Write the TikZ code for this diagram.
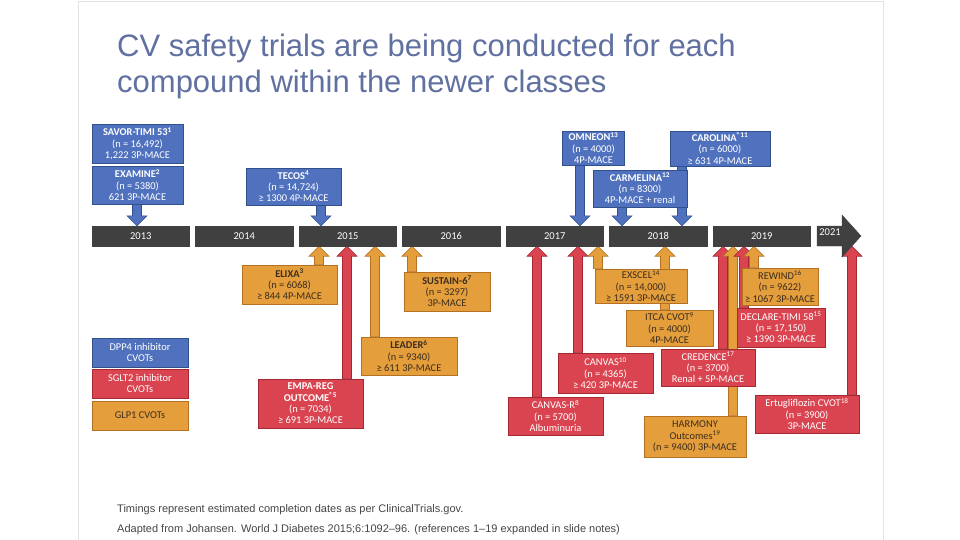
\documentclass[tikz,border=0pt]{standalone}
\usepackage{fontspec}
\setmainfont{Liberation Sans}
\newfontfamily\boxfont{Carlito}
\usetikzlibrary{calc}
\definecolor{cblue}{RGB}{80,114,190}
\definecolor{cbluedark}{RGB}{50,80,140}
\definecolor{cred}{RGB}{218,68,80}
\definecolor{creddark}{RGB}{165,40,50}
\definecolor{corange}{RGB}{228,158,60}
\definecolor{corangedark}{RGB}{180,112,35}
\definecolor{tgray}{RGB}{64,64,64}
\definecolor{ctitle}{RGB}{96,112,160}
\definecolor{otext}{RGB}{60,45,30}
\definecolor{cfoot}{RGB}{70,70,70}
\pgfdeclarelayer{paper}
\pgfdeclarelayer{back}
\pgfsetlayers{paper,back,main}
% block arrow pointing up: #1 colour, #2 x (px), #3 from node (below), #4 to node (above)
\newcommand\uparr[4]{%
  \path[fill=#1,draw=#1dark,line width=0.6pt] let \p1=(#3.north), \p2=(#4.south) in
    (#2pt-4.5pt,\y1) -- (#2pt-4.5pt,\y2-10pt) -- (#2pt-10pt,\y2-10pt) -- (#2pt,\y2)
    -- (#2pt+10pt,\y2-10pt) -- (#2pt+4.5pt,\y2-10pt) -- (#2pt+4.5pt,\y1) -- cycle;}
% block arrow pointing down
\newcommand\dnarr[4]{%
  \path[fill=#1,draw=#1dark,line width=0.6pt] let \p1=(#3.south), \p2=(#4.north) in
    (#2pt-4.5pt,\y1) -- (#2pt-4.5pt,\y2+10pt) -- (#2pt-10pt,\y2+10pt) -- (#2pt,\y2)
    -- (#2pt+10pt,\y2+10pt) -- (#2pt+4.5pt,\y2+10pt) -- (#2pt+4.5pt,\y1) -- cycle;}
\begin{document}
\begin{tikzpicture}[x=1pt,y=-1pt,
  box/.style={line width=0.8pt, align=center, inner sep=0pt,
    font=\boxfont\fontsize{10.4}{11.3}\selectfont},
  bluebox/.style={box, fill=cblue, draw=cbluedark, text=white},
  redbox/.style={box, fill=cred, draw=creddark, text=white},
  orangebox/.style={box, fill=corange, draw=corangedark, text=otext},
  yearbar/.style={fill=tgray, draw=tgray, minimum width=97.5pt, minimum height=20pt,
    inner sep=0pt, text=white, font=\boxfont\fontsize{10.5}{12}\selectfont},
  wh/.style 2 args={minimum width=#1pt, minimum height=#2pt},
  titlefont/.style={font=\fontsize{31}{36}\selectfont, text=ctitle, inner sep=0pt, anchor=base west},
  footfont/.style={font=\fontsize{11}{13}\selectfont, text=cfoot, inner sep=0pt, anchor=base west}]
\useasboundingbox (0,0) rectangle (960,540);
\begin{pgfonlayer}{paper}
\fill[white] (0,0) rectangle (960,540);
\draw[gray!22, line width=0.8pt] (78,545) -- (78,1) -- (883,1) -- (883,545);
\end{pgfonlayer}

% title
\node[titlefont] (title1) at (117,57) {CV safety trials are being conducted for each};
\node[titlefont] (title2) at (117,93) {compound within the newer classes};

% timeline
\node[yearbar] (y2013) at (140.75,236) {2013};
\node[yearbar] (y2014) at (244.25,236) {2014};
\node[yearbar] (y2015) at (347.75,236) {2015};
\node[yearbar] (y2016) at (451.25,236) {2016};
\node[yearbar] (y2017) at (554.75,236) {2017};
\node[yearbar] (y2018) at (658.25,236) {2018};
\node[yearbar] (y2019) at (761.75,236) {2019};
\path[fill=tgray, draw=tgray] (817,226) -- (842,226) -- (842,215) -- (861,236)
  -- (842,257) -- (842,246) -- (817,246) -- cycle;
\node[inner sep=0pt, text=white, font=\boxfont\fontsize{10.5}{12}\selectfont] (y2021) at (830,232) {2021};
\node[inner sep=0pt, minimum size=0pt] (t2021) at (852,246) {};

% DPP4 trials
\node[bluebox, wh={91}{39}] (savor) at (137.5,143.5) {\textbf{SAVOR-TIMI 53\textsuperscript{1}}\\(n = 16,492)\\1,222 3P-MACE};
\node[bluebox, wh={91}{38}] (examine) at (137.5,185) {\textbf{EXAMINE\textsuperscript{2}}\\(n = 5380)\\621 3P-MACE};
\node[bluebox, wh={95}{37}] (tecos) at (293.5,186.5) {\textbf{TECOS\textsuperscript{4}}\\(n = 14,724)\\≥ 1300 4P-MACE};
\node[bluebox, wh={62}{34}] (omneon) at (593.5,148) {\textbf{OMNEON\textsuperscript{13}}\\(n = 4000)\\4P-MACE};
\node[bluebox, wh={100}{35}] (carolina) at (720,148.5) {\textbf{CAROLINA\textsuperscript{®11}}\\(n = 6000)\\≥ 631 4P-MACE};
\node[bluebox, wh={94}{37}] (carmelina) at (640,188.5) {\textbf{CARMELINA\textsuperscript{12}}\\(n = 8300)\\4P-MACE + renal};

% GLP1 trials
\node[orangebox, wh={95}{39}] (elixa) at (289.5,284.5) {\textbf{ELIXA\textsuperscript{3}}\\(n = 6068)\\≥ 844 4P-MACE};
\node[orangebox, wh={86}{39}] (sustain) at (447,291.5) {\textbf{SUSTAIN-6\textsuperscript{7}}\\(n = 3297)\\3P-MACE};
\node[orangebox, wh={96}{38}] (leader) at (409,356) {\textbf{LEADER\textsuperscript{6}}\\(n = 9340)\\≥ 611 3P-MACE};
\node[orangebox, wh={92}{34}] (exscel) at (641,286) {EXSCEL\textsuperscript{14}\\(n = 14,000)\\≥ 1591 3P-MACE};
\node[orangebox, wh={87}{36}] (itca) at (669.5,328) {ITCA CVOT\textsuperscript{9}\\(n = 4000)\\4P-MACE};
\node[orangebox, wh={102}{41}] (harmony) at (695,436.5) {HARMONY\\Outcomes\textsuperscript{19}\\(n = 9400) 3P-MACE};
\node[orangebox, wh={76}{37}] (rewind) at (780,286.5) {REWIND\textsuperscript{16}\\(n = 9622)\\≥ 1067 3P-MACE};

% SGLT2 trials
\node[redbox, wh={105}{49}] (empareg) at (310.5,403.5) {\textbf{EMPA-REG}\\\textbf{OUTCOME\textsuperscript{®5}}\\(n = 7034)\\≥ 691 3P-MACE};
\node[redbox, wh={95}{38}] (canvasr) at (555.5,416) {CANVAS-R\textsuperscript{8}\\(n = 5700)\\Albuminuria};
\node[redbox, wh={95}{40}] (canvas) at (605.5,373) {CANVAS\textsuperscript{10}\\(n = 4365)\\≥ 420 3P-MACE};
\node[redbox, wh={94}{37}] (credence) at (708,367.5) {CREDENCE\textsuperscript{17}\\(n = 3700)\\Renal + 5P-MACE};
\node[redbox, wh={88}{39}] (declare) at (781,327.5) {DECLARE-TIMI 58\textsuperscript{15}\\(n = 17,150)\\≥ 1390 3P-MACE};
\node[redbox, wh={104}{38}] (ertu) at (807,414) {Ertugliflozin CVOT\textsuperscript{18}\\(n = 3900)\\3P-MACE};

% legend
\node[bluebox, wh={96}{29}] (legdpp) at (140,352.5) {DPP4 inhibitor\\CVOTs};
\node[redbox, wh={96}{29}] (legsglt) at (140,383.5) {SGLT2 inhibitor\\CVOTs};
\node[orangebox, wh={96}{29}] (legglp) at (140,415.5) {GLP1 CVOTs};

% footer
\node[footfont] (foot1) at (117,512) {Timings represent estimated completion dates as per ClinicalTrials.gov.};
\node[footfont] (foot2) at (117,532) {Adapted from Johansen. World J Diabetes 2015;6:1092–96. (references 1–19 expanded in slide notes)};

% connectors
\begin{pgfonlayer}{back}
\dnarr{cblue}{137}{examine}{y2013}
\dnarr{cblue}{321}{tecos}{y2015}
\dnarr{cblue}{580}{omneon}{y2017}
\dnarr{cblue}{622}{carmelina}{y2018}
\dnarr{cblue}{682}{carolina}{y2018}
\uparr{corange}{319}{elixa}{y2015}
\uparr{cred}{347}{empareg}{y2015}
\uparr{corange}{375}{leader}{y2015}
\uparr{corange}{412}{sustain}{y2016}
\uparr{cred}{537}{canvasr}{y2017}
\uparr{cred}{578}{canvas}{y2017}
\uparr{corange}{598}{exscel}{y2017}
\uparr{corange}{665}{itca}{y2018}
\uparr{cred}{723}{credence}{y2019}
\uparr{corange}{733}{harmony}{y2019}
\uparr{cred}{744}{declare}{y2019}
\uparr{corange}{754}{rewind}{y2019}
\uparr{cred}{852}{ertu}{t2021}
\end{pgfonlayer}
\end{tikzpicture}
\end{document}
